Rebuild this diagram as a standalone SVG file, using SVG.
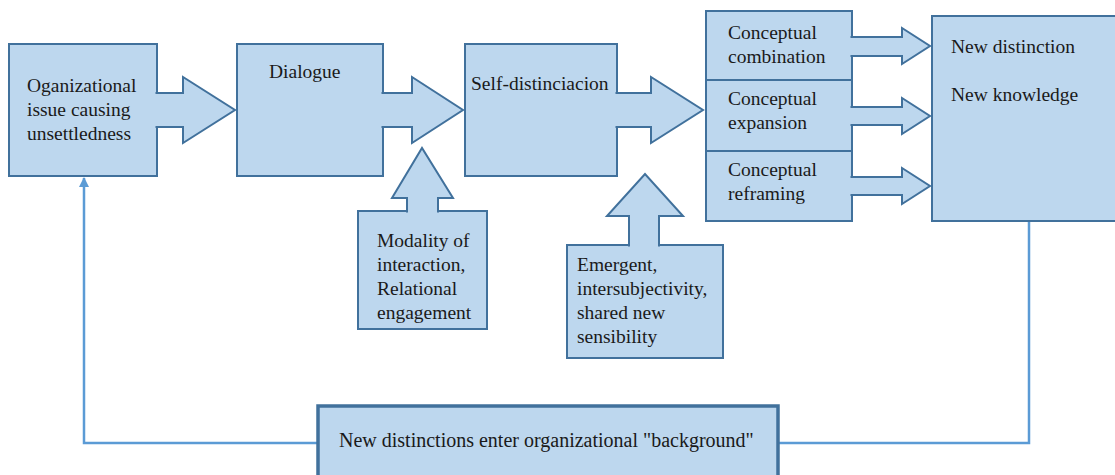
<svg xmlns="http://www.w3.org/2000/svg" width="1115" height="475" viewBox="0 0 1115 475">
<defs>
<style>
.box{fill:#BDD7EE;stroke:#41719C;stroke-width:2}
.arr{fill:#BDD7EE;stroke:#41719C;stroke-width:2;stroke-linejoin:miter}
.t{font-family:"Liberation Serif","Times New Roman",serif;font-size:19.5px;fill:#1a1a1a}
.fb{fill:none;stroke:#5B9BD5;stroke-width:2.5}
</style>
<marker id="ah" viewBox="0 0 10 10" refX="9" refY="5" markerWidth="4" markerHeight="4" orient="auto">
<path d="M0,0 L10,5 L0,10 z" fill="#5B9BD5"/>
</marker>
</defs>
<rect width="1115" height="475" fill="#ffffff"/>

<g id="connectors">
<path class="fb" d="M1029,221 V443 H778"/>
<path class="fb" d="M318,443 H84 V178" marker-end="url(#ah)"/>
</g>

<g id="node-issue">
<rect class="box" x="9" y="44" width="148" height="132"/>
<text class="t" x="27" y="92">Oganizational</text>
<text class="t" x="27" y="116">issue causing</text>
<text class="t" x="27" y="140">unsettledness</text>
</g>

<g id="node-dialogue">
<rect class="box" x="237" y="44" width="146" height="132"/>
<text class="t" x="269" y="78">Dialogue</text>
</g>

<g id="node-self">
<rect class="box" x="465" y="44" width="152" height="132"/>
<text class="t" x="471" y="90">Self-distinciacion</text>
</g>

<g id="node-concepts">
<rect class="box" x="706" y="11" width="146" height="69"/>
<rect class="box" x="706" y="80" width="146" height="71"/>
<rect class="box" x="706" y="151" width="146" height="70"/>
<text class="t" x="728" y="39">Conceptual</text>
<text class="t" x="728" y="63">combination</text>
<text class="t" x="728" y="105">Conceptual</text>
<text class="t" x="728" y="129">expansion</text>
<text class="t" x="728" y="176">Conceptual</text>
<text class="t" x="728" y="200">reframing</text>
</g>

<g id="node-new">
<rect class="box" x="932" y="16" width="190" height="205"/>
<text class="t" x="951" y="53">New distinction</text>
<text class="t" x="951" y="101">New knowledge</text>
</g>

<g id="node-modality">
<rect class="box" x="358" y="211" width="129" height="118"/>
<text class="t" x="377" y="247">Modality of</text>
<text class="t" x="377" y="271">interaction,</text>
<text class="t" x="377" y="295">Relational</text>
<text class="t" x="377" y="319">engagement</text>
</g>

<g id="node-emergent">
<rect class="box" x="567" y="245" width="156" height="113"/>
<text class="t" x="577" y="271">Emergent,</text>
<text class="t" x="577" y="295">intersubjectivity,</text>
<text class="t" x="577" y="319">shared new</text>
<text class="t" x="577" y="343">sensibility</text>
</g>

<g id="node-background">
<rect x="318" y="406" width="460" height="80" fill="#BDD7EE" stroke="#41719C" stroke-width="3.5"/>
<text class="t" x="339" y="447" style="font-size:20px">New distinctions enter organizational "background"</text>
</g>

<g id="block-arrows">
<path class="arr" d="M155.5,93 H183 V77 L235,110 L183,143 V127 H155.5"/>
<path class="arr" d="M381.5,93 H412 V77 L463,110 L412,143 V127 H381.5"/>
<path class="arr" d="M615.5,93 H651 V77 L703,110 L651,143 V127 H615.5"/>
<path class="arr" d="M850.5,37 H902 V28 L930,46 L902,64 V56 H850.5"/>
<path class="arr" d="M850.5,107 H902 V98 L930,116 L902,134 V125 H850.5"/>
<path class="arr" d="M850.5,177 H902 V168 L930,186 L902,204 V195 H850.5"/>
<path class="arr" d="M407,212.5 V198 H392 L422,148 L453,198 H438 V212.5"/>
<path class="arr" d="M629,246.5 V216 H607 L645,174 L683,216 H659 V246.5"/>
</g>
</svg>
